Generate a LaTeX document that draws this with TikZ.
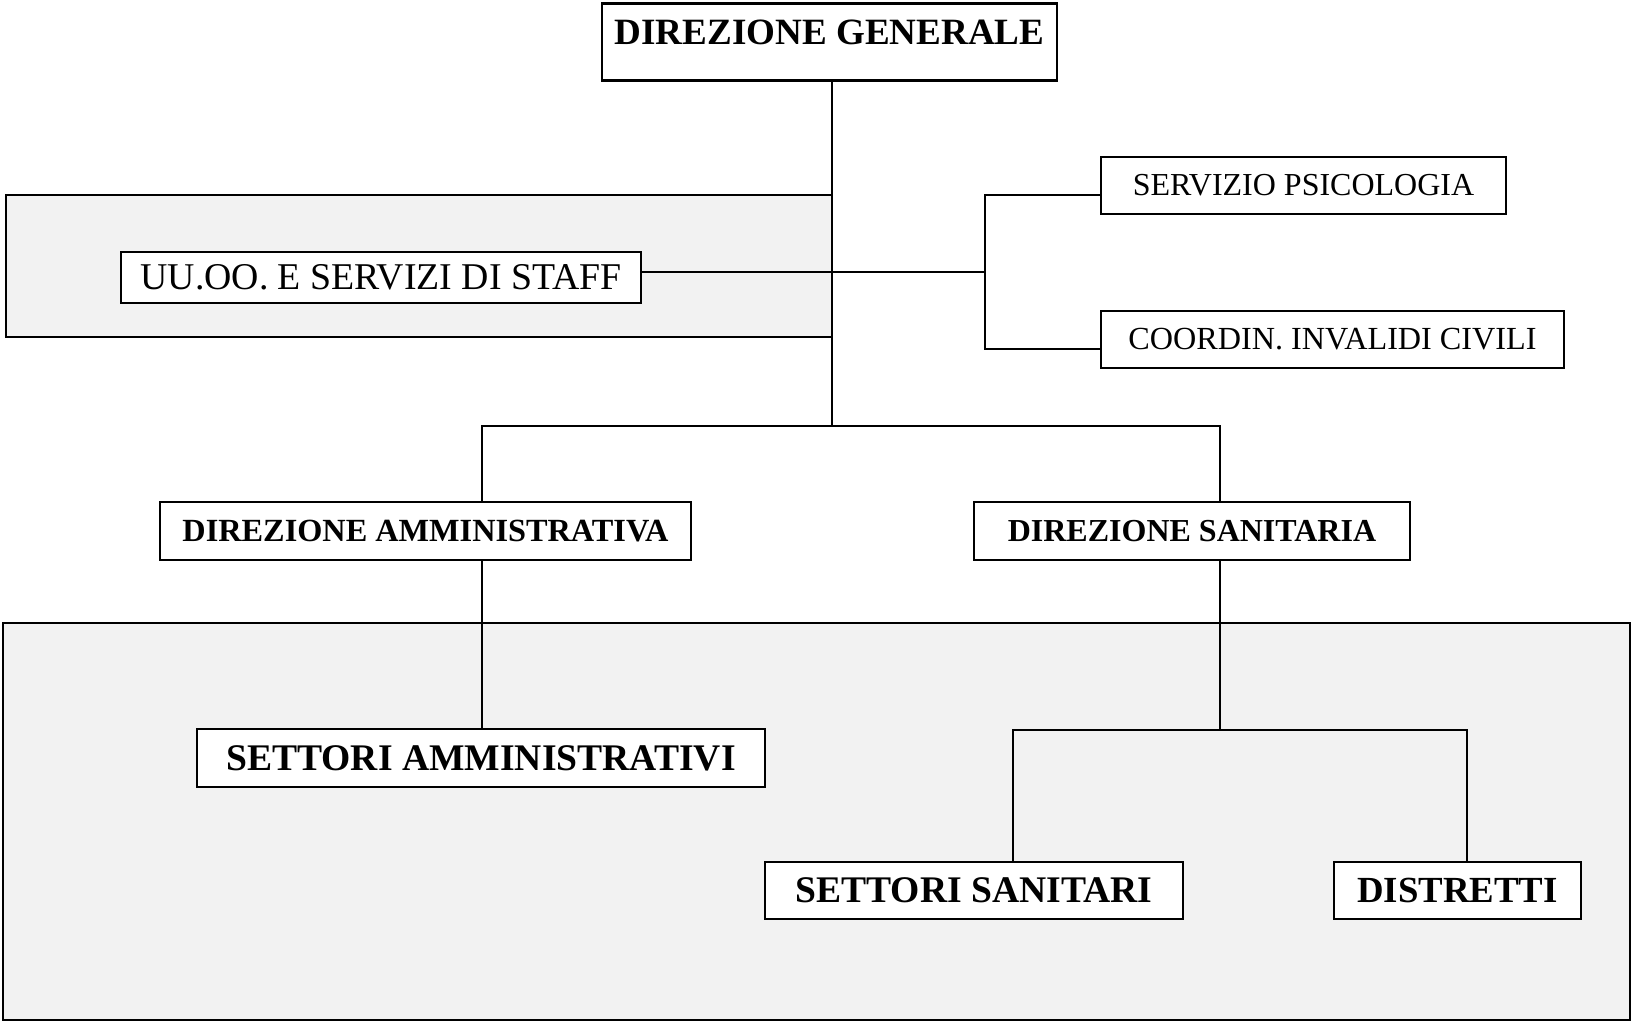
\documentclass[tikz,border=0pt]{standalone}
\usepackage{fontspec}
\setmainfont{Liberation Serif}
\begin{document}
\begin{tikzpicture}[x=0.5pt,y=-0.5pt,
  box/.style={draw,line width=1.3pt,fill=white,inner sep=0pt,align=center},
  panel/.style={draw,line width=1.4pt,fill=panelgray},
  link/.style={line width=1pt}]
\definecolor{panelgray}{HTML}{F2F2F2}
\useasboundingbox (0,0) rectangle (1631,1023);
\draw [panel] (3,623) rectangle (1630,1020);
\draw [panel] (6,195) rectangle (832,337);
\node [box,anchor=north,minimum width=227.5pt,text height=20.5pt,text depth=18pt,font=\fontsize{18.55}{20}\selectfont\bfseries] (gen) at (829.5,2) {DIREZIONE GENERALE};
\node [box,minimum width=260pt,minimum height=25.5pt,font=\fontsize{18.9}{20}\selectfont] (staff) at (381,277.5) {UU.OO. E SERVIZI DI STAFF};
\node [box,minimum width=202.5pt,minimum height=28.5pt,font=\fontsize{16}{18}\selectfont] (psico) at (1303.5,185.5) {SERVIZIO PSICOLOGIA};
\node [box,minimum width=231.5pt,minimum height=28.5pt,font=\fontsize{16.1}{18}\selectfont] (coord) at (1332.5,339.5) {COORDIN. INVALIDI CIVILI};
\node [box,minimum width=265.5pt,minimum height=29pt,font=\fontsize{16.15}{18}\selectfont\bfseries] (dirA) at (425.5,531) {DIREZIONE AMMINISTRATIVA};
\node [box,minimum width=218pt,minimum height=29pt,font=\fontsize{16}{18}\selectfont\bfseries] (dirS) at (1192,531) {DIREZIONE SANITARIA};
\node [box,minimum width=284pt,minimum height=29pt,font=\fontsize{18.8}{20}\selectfont\bfseries] (settA) at (481,758) {SETTORI AMMINISTRATIVI};
\node [box,minimum width=209pt,minimum height=28.5pt,font=\fontsize{18.8}{20}\selectfont\bfseries] (sanit) at (974,890.5) {SETTORI SANITARI};
\node [box,minimum width=123.5pt,minimum height=28.5pt,font=\fontsize{18.4}{20}\selectfont\bfseries] (distr) at (1457.5,890.5) {DISTRETTI};
\coordinate (t) at (832,426);
\coordinate (jA) at (482,426);
\coordinate (jB) at (1220,426);
\coordinate (bj) at (985,272);
\coordinate (bt) at (985,195);
\coordinate (bb) at (985,349);
\coordinate (jS) at (1220,730);
\coordinate (jL) at (1013,730);
\coordinate (jR) at (1467,730);
\draw [link] (gen.south -| t) -- (t);
\draw [link] (jA |- dirA.north) -- (jA) -- (jB) -- (jB |- dirS.north);
\draw [link] (staff.east |- bj) -- (bj);
\draw [link] (bt -| psico.west) -- (bt) -- (bb) -- (bb -| coord.west);
\draw [link] (dirA.south -| jA) -- (jA |- settA.north);
\draw [link] (dirS.south -| jS) -- (jS);
\draw [link] (jL |- sanit.north) -- (jL) -- (jR) -- (jR |- distr.north);
\end{tikzpicture}
\end{document}
